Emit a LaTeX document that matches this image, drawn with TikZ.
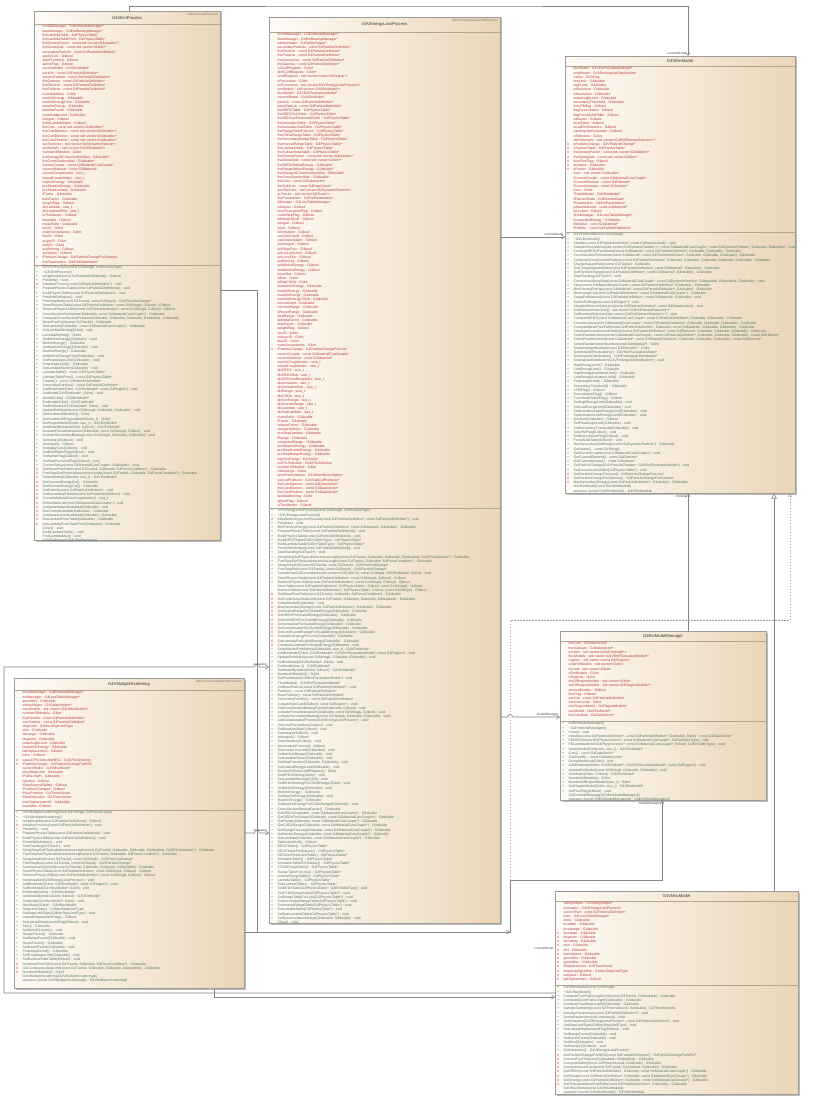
\documentclass[tikz,border=0pt]{standalone}
\usepackage{fontspec}
\usetikzlibrary{arrows.meta,calc}
\newfontfamily\umlfont{Liberation Sans}
\definecolor{boxleft}{HTML}{FFFBF6}
\definecolor{boxright}{HTML}{EAD6B8}
\definecolor{boxborder}{HTML}{9C9C9C}
\definecolor{sepcol}{HTML}{B3A690}
\definecolor{attrred}{HTML}{B43C3C}
\definecolor{opgreen}{HTML}{557563}
\definecolor{mkgray}{HTML}{A8A8A8}
\definecolor{mkred}{HTML}{C42A2A}
\definecolor{mkgreen}{HTML}{3A8C45}
\definecolor{linecol}{HTML}{858585}
\definecolor{shadowcol}{HTML}{BDBDBD}
\newcommand\ZA{\makebox[6.5pt][l]{\textcolor{mkgray}{-}}}
\newcommand\ZB{\makebox[6.5pt][l]{\textcolor{mkred}{\#}}}
\newcommand\ZC{\makebox[6.5pt][l]{\textcolor{mkgreen}{+}}}
\tikzset{
  classbox/.style={draw=boxborder, line width=0.5pt, left color=boxleft, right color=boxright, inner sep=0pt},
  shadowbox/.style={fill=shadowcol},
  sepline/.style={draw=sepcol, line width=0.45pt},
  titletext/.style={font=\umlfont\fontsize{4.2}{5}\selectfont, text=black!80, inner sep=0pt},
  stereo/.style={font=\umlfont\fontsize{3.2}{4}\selectfont, text=black!55, inner sep=0pt},
  attrtext/.style={font=\umlfont\fontsize{3.5}{4.2}\selectfont, text=attrred, inner sep=0pt},
  optext/.style={font=\umlfont\fontsize{3.5}{4.2}\selectfont, text=opgreen, inner sep=0pt},
  assoc/.style={draw=linecol, line width=0.6pt, -{Straight Barb[length=3pt,width=4pt]}},
  inherit/.style={draw=linecol, line width=0.6pt, -{Triangle[open,length=5pt,width=5.5pt,fill=white]}},
  depend/.style={draw=linecol!80, line width=0.6pt, dash pattern=on 1.5pt off 1.5pt, -{Straight Barb[length=3pt,width=4pt]}},
  rolelabel/.style={font=\umlfont\fontsize{3.2}{4}\selectfont, text=black!70, inner sep=0.5pt},
}
% #1 name, #2 x1, #3 y1, #4 x2, #5 y2, #6 header bottom, #7 separator, #8 title
\newcommand\umlclass[8]{%
  \fill[shadowbox] (#2+1.5,#3+1.5) rectangle (#4+1.5,#5+1.5);
  \node[classbox, anchor=north west, minimum width={(#4-#2)*1pt}, minimum height={(#5-#3)*1pt}] (#1) at (#2,#3) {};
  \draw[sepline] (#2,#6) -- (#4,#6);
  \draw[sepline] (#2,#7) -- (#4,#7);
  \node[titletext] (#1-title) at ({(#2+#4)/2},{(#3+#6)/2+0.3}) {#8};
}
% #1 name, #2 x1, #3 y1, #4 x2, #5 y2, #6 style, #7 content
\newcommand\umlsection[7]{%
  \begin{scope}
    \clip (#2,#3) rectangle (#4,#5);
    \node[#6, anchor=north west] (#1) at (#2+2,#3+0.8) {\begin{tabular}{@{}l@{}}#7\end{tabular}};
  \end{scope}
}
\begin{document}
\begin{tikzpicture}[x=1pt,y=-1pt]
\useasboundingbox (0,0) rectangle (817,1102);
\fill[white] (0,0) rectangle (817,1102);

% ---------------- helper coordinates ----------------
\coordinate (topy) at (400,6);
\coordinate (yB) at (0,237);
\coordinate (yG) at (0,717);
\coordinate (xD) at (774,0);
\coordinate (xC) at (688,0);
\coordinate (xM) at (257,0);
\coordinate (yM1) at (0,290);
\coordinate (yM2) at (0,932);
\coordinate (jM) at (510,932);
\coordinate (kM) at (510,880);
\coordinate (xK) at (662,0);
\coordinate (yI1) at (0,667);
\coordinate (yI2) at (0,833);
\coordinate (fL) at (4,993);
\coordinate (yS) at (0,997);
\coordinate (dT) at (510,620);
\coordinate (dR) at (790,620);

% ---------------- classes ----------------
\umlclass{c1}{34}{11}{220}{540}{24}{265}{G4VEmProcess}
\node[stereo, anchor=north east] (c1-st) at (218,12.5) {G4VDiscreteProcess};
\umlsection{c1-a}{34}{24}{220}{265}{attrtext}{%
\ZA modelManager : G4EmModelManager*\\
\ZA biasManager : G4EmBiasingManager*\\
\ZA theLambdaTable : G4PhysicsTable*\\
\ZA theLambdaTablePrim : G4PhysicsTable*\\
\ZA theDensityFactor : const std::vector<G4double>*\\
\ZA theDensityIdx : const std::vector<G4int>*\\
\ZA secondaryParticle : const G4ParticleDefinition*\\
\ZA applyCuts : G4bool\\
\ZA startFromNull : G4bool\\
\ZA splineFlag : G4bool\\
\ZA currentModel : G4VEmModel*\\
\ZA particle : const G4ParticleDefinition*\\
\ZA currentParticle : const G4ParticleDefinition*\\
\ZA theGamma : const G4ParticleDefinition*\\
\ZA theElectron : const G4ParticleDefinition*\\
\ZA thePositron : const G4ParticleDefinition*\\
\ZA nLambdaBins : G4int\\
\ZA minKinEnergy : G4double\\
\ZA minKinEnergyPrim : G4double\\
\ZA maxKinEnergy : G4double\\
\ZA lambdaFactor : G4double\\
\ZA polarAngleLimit : G4double\\
\ZA integral : G4bool\\
\ZA buildLambdaTable : G4bool\\
\ZA theCuts : const std::vector<G4double>*\\
\ZA theCutsGamma : const std::vector<G4double>*\\
\ZA theCutsElectron : const std::vector<G4double>*\\
\ZA theCutsPositron : const std::vector<G4double>*\\
\ZA secParticles : std::vector<G4DynamicParticle*>\\
\ZA emModels : std::vector<G4VEmModel*>\\
\ZA numberOfModels : G4int\\
\ZA theEnergyOfCrossSectionMax : G4double*\\
\ZA theCrossSectionMax : G4double*\\
\ZA currentCouple : const G4MaterialCutsCouple*\\
\ZA currentMaterial : const G4Material*\\
\ZA currentCoupleIndex : size\_t\\
\ZA basedCoupleIndex : size\_t\\
\ZA mfpKinEnergy : G4double\\
\ZA preStepKinEnergy : G4double\\
\ZA preStepLambda : G4double\\
\ZA fFactor : G4double\\
\ZA biasFactor : G4double\\
\ZA weightFlag : G4bool\\
\ZA idxLambda : size\_t\\
\ZA idxLambdaPrim : size\_t\\
\ZA isTheMaster : G4bool\\
\ZA baseMat : G4bool\\
\ZA massRatio : G4double\\
\ZA secID : G4int\\
\ZA mainSecondaries : G4int\\
\ZA fluoID : G4int\\
\ZA augerID : G4int\\
\ZA biasID : G4int\\
\ZA actBinning : G4bool\\
\ZA actSpline : G4bool\\
\ZB fParticleChange : G4ParticleChangeForGamma\\
\ZA theParameters : G4EmParameters*\\
\ZA lManager : G4LossTableManager*}
\umlsection{c1-o}{34}{265}{220}{540}{optext}{%
\ZC G4VEmProcess(const G4String\&, G4ProcessType)\\
\ZC \textasciitilde G4VEmProcess()\\
\ZC IsApplicable(const G4ParticleDefinition\&) : G4bool\\
\ZC PrintInfo() : void\\
\ZB InitialiseProcess(const G4ParticleDefinition*) : void\\
\ZC PreparePhysicsTable(const G4ParticleDefinition\&) : void\\
\ZC BuildPhysicsTable(const G4ParticleDefinition\&) : void\\
\ZC PrintInfoDefinition() : void\\
\ZC PostStepDoIt(const G4Track\&, const G4Step\&) : G4VParticleChange*\\
\ZC StorePhysicsTable(const G4ParticleDefinition*, const G4String\&, G4bool) : G4bool\\
\ZC RetrievePhysicsTable(const G4ParticleDefinition*, const G4String\&, G4bool) : G4bool\\
\ZC CrossSectionPerVolume(G4double, const G4MaterialCutsCouple*) : G4double\\
\ZC ComputeCrossSectionPerAtom(G4double, G4double, G4double, G4double) : G4double\\
\ZC MeanFreePath(const G4Track\&) : G4double\\
\ZC GetLambda(G4double, const G4MaterialCutsCouple*) : G4double\\
\ZC SetLambdaBinning(G4int) : void\\
\ZC LambdaBinning() : G4int\\
\ZC SetMinKinEnergy(G4double) : void\\
\ZC MinKinEnergy() : G4double\\
\ZC SetMaxKinEnergy(G4double) : void\\
\ZC MaxKinEnergy() : G4double\\
\ZC SetMinKinEnergyPrim(G4double) : void\\
\ZC SetPolarAngleLimit(G4double) : void\\
\ZC PolarAngleLimit() : G4double\\
\ZC SetLambdaFactor(G4double) : void\\
\ZC LambdaTable() : const G4PhysicsTable*\\
\ZC LambdaTablePrim() : const G4PhysicsTable*\\
\ZC Particle() : const G4ParticleDefinition*\\
\ZC SecondaryParticle() : const G4ParticleDefinition*\\
\ZC AddEmModel(G4int, G4VEmModel*, const G4Region*) : void\\
\ZC SetModel(G4VEmModel*, G4int) : void\\
\ZC Model(G4int) : G4VEmModel*\\
\ZC EmModel(G4int) : G4VEmModel*\\
\ZC SetEmModel(G4VEmModel*, G4int) : void\\
\ZC UpdateEmModel(const G4String\&, G4double, G4double) : void\\
\ZC GetNumberOfModels() : G4int\\
\ZC GetNumberOfRegionModels(size\_t) : G4int\\
\ZC GetRegionModel(G4int, size\_t) : G4VEmModel*\\
\ZC GetModelByIndex(G4int, G4bool) : G4VEmModel*\\
\ZC ActivateForcedInteraction(G4double, const G4String\&, G4bool) : void\\
\ZC ActivateSecondaryBiasing(const G4String\&, G4double, G4double) : void\\
\ZC SetIntegral(G4bool) : void\\
\ZC IsIntegral() : G4bool\\
\ZC SetApplyCuts(G4bool) : void\\
\ZC SetBuildTableFlag(G4bool) : void\\
\ZC SetSplineFlag(G4bool) : void\\
\ZC SetStartFromNullFlag(G4bool) : void\\
\ZC CurrentSetup(const G4MaterialCutsCouple*, G4double) : void\\
\ZB GetMeanFreePath(const G4Track\&, G4double, G4ForceCondition*) : G4double\\
\ZB PostStepGetPhysicalInteractionLength(const G4Track\&, G4double, G4ForceCondition*) : G4double\\
\ZB SelectModel(G4double, size\_t) : G4VEmModel*\\
\ZB GetGammaEnergyCut() : G4double\\
\ZB GetElectronEnergyCut() : G4double\\
\ZB SetParticle(const G4ParticleDefinition*) : void\\
\ZB SetSecondaryParticle(const G4ParticleDefinition*) : void\\
\ZB CurrentMaterialCutsCoupleIndex() : size\_t\\
\ZB DefineMaterial(const G4MaterialCutsCouple*) : void\\
\ZB ComputeIntegralLambda(G4double) : void\\
\ZB GetCurrentLambda(G4double) : G4double\\
\ZB ComputeCurrentLambda(G4double) : G4double\\
\ZB GetLambdaFromTable(G4double) : G4double\\
\ZB GetLambdaFromTablePrim(G4double) : G4double\\
\ZA Clear() : void\\
\ZA BuildLambdaTable() : void\\
\ZA FindLambdaMax() : void\\
\ZA G4VEmProcess(G4VEmProcess\&)\\
\ZA operator=(const G4VEmProcess\&) : G4VEmProcess\&}

% ---- G4VEnergyLossProcess
\umlclass{c2}{269}{17}{500}{923}{32}{508}{G4VEnergyLossProcess}
\node[stereo, anchor=north east] (c2-st) at (498,18.5) {G4VContinuousDiscreteProcess};
\umlsection{c2-a}{269}{32}{500}{508}{attrtext}{%
\ZA modelManager : G4EmModelManager*\\
\ZA biasManager : G4EmBiasingManager*\\
\ZA safetyHelper : G4SafetyHelper*\\
\ZA secondaryParticle : const G4ParticleDefinition*\\
\ZA theElectron : const G4ParticleDefinition*\\
\ZA thePositron : const G4ParticleDefinition*\\
\ZA theGenericIon : const G4ParticleDefinition*\\
\ZA theGamma : const G4ParticleDefinition*\\
\ZA nSCoffRegions : G4int\\
\ZA idxSCoffRegions : G4int*\\
\ZA scoffRegions : std::vector<const G4Region*>\\
\ZA nProcesses : G4int\\
\ZA scProcesses : std::vector<G4VEnergyLossProcess*>\\
\ZA emModels : std::vector<G4VEmModel*>\\
\ZA fluctModel : G4VEmFluctuationModel*\\
\ZA currentModel : G4VEmModel*\\
\ZA particle : const G4ParticleDefinition*\\
\ZA baseParticle : const G4ParticleDefinition*\\
\ZA theDEDXTable : G4PhysicsTable*\\
\ZA theDEDXSubTable : G4PhysicsTable*\\
\ZA theDEDXunRestrictedTable : G4PhysicsTable*\\
\ZA theIonisationTable : G4PhysicsTable*\\
\ZA theIonisationSubTable : G4PhysicsTable*\\
\ZA theRangeTableForLoss : G4PhysicsTable*\\
\ZA theCSDARangeTable : G4PhysicsTable*\\
\ZA theSecondaryRangeTable : G4PhysicsTable*\\
\ZA theInverseRangeTable : G4PhysicsTable*\\
\ZA theLambdaTable : G4PhysicsTable*\\
\ZA theSubLambdaTable : G4PhysicsTable*\\
\ZA theDensityFactor : const std::vector<G4double>*\\
\ZA theDensityIdx : const std::vector<G4int>*\\
\ZA theDEDXAtMaxEnergy : G4double*\\
\ZA theRangeAtMaxEnergy : G4double*\\
\ZA theEnergyOfCrossSectionMax : G4double*\\
\ZA theCrossSectionMax : G4double*\\
\ZA theCuts : const G4DataVector*\\
\ZA theSubCuts : const G4DataVector*\\
\ZA secParticles : std::vector<G4DynamicParticle*>\\
\ZA scTracks : std::vector<G4Track*>\\
\ZA theParameters : G4EmParameters*\\
\ZA lManager : G4LossTableManager*\\
\ZA isMaster : G4bool\\
\ZA lossFluctuationFlag : G4bool\\
\ZA rndmStepFlag : G4bool\\
\ZA tablesAreBuilt : G4bool\\
\ZA integral : G4bool\\
\ZA isIon : G4bool\\
\ZA isIonisation : G4bool\\
\ZA useSubCutoff : G4bool\\
\ZA useDeexcitation : G4bool\\
\ZA actIntegral : G4bool\\
\ZA actStepFunc : G4bool\\
\ZA actLinLossLimit : G4bool\\
\ZA actLossFluc : G4bool\\
\ZA actBinning : G4bool\\
\ZA actMinKinEnergy : G4bool\\
\ZA actMaxKinEnergy : G4bool\\
\ZA baseMat : G4bool\\
\ZA nBins : G4int\\
\ZA nBinsCSDA : G4int\\
\ZA lowestKinEnergy : G4double\\
\ZA minKinEnergy : G4double\\
\ZA maxKinEnergy : G4double\\
\ZA maxKinEnergyCSDA : G4double\\
\ZA linLossLimit : G4double\\
\ZA minSubRange : G4double\\
\ZA dRoverRange : G4double\\
\ZA finalRange : G4double\\
\ZA lambdaFactor : G4double\\
\ZA biasFactor : G4double\\
\ZA weightFlag : G4bool\\
\ZA secID : G4int\\
\ZA subsecID : G4int\\
\ZA biasID : G4int\\
\ZA mainSecondaries : G4int\\
\ZB fParticleChange : G4ParticleChangeForLoss\\
\ZA currentCouple : const G4MaterialCutsCouple*\\
\ZA currentMaterial : const G4Material*\\
\ZA currentCoupleIndex : size\_t\\
\ZA basedCoupleIndex : size\_t\\
\ZA idxDEDX : size\_t\\
\ZA idxDEDXSub : size\_t\\
\ZA idxDEDXunRestricted : size\_t\\
\ZA idxIonisation : size\_t\\
\ZA idxIonisationSub : size\_t\\
\ZA idxRange : size\_t\\
\ZA idxCSDA : size\_t\\
\ZA idxSecRange : size\_t\\
\ZA idxInverseRange : size\_t\\
\ZA idxLambda : size\_t\\
\ZA idxSubLambda : size\_t\\
\ZA massRatio : G4double\\
\ZA fFactor : G4double\\
\ZA reduceFactor : G4double\\
\ZA chargeSqRatio : G4double\\
\ZA preStepLambda : G4double\\
\ZA fRange : G4double\\
\ZA computedRange : G4double\\
\ZA preStepKinEnergy : G4double\\
\ZA preStepScaledEnergy : G4double\\
\ZA preStepRangeEnergy : G4double\\
\ZA mfpKinEnergy : G4double\\
\ZA aGPILSelection : G4GPILSelection\\
\ZA numberOfModels : G4int\\
\ZA nWarnings : G4int\\
\ZA atomDeexcitation : G4VAtomDeexcitation*\\
\ZA subcutProducer : G4VSubCutProducer*\\
\ZA theCutsGamma : const G4DataVector*\\
\ZA theCutsElectron : const G4DataVector*\\
\ZA theCutsPositron : const G4DataVector*\\
\ZA lambdaBinning : G4int\\
\ZA splineFlag : G4bool\\
\ZA isTheMaster : G4bool}
\umlsection{c2-o}{269}{508}{500}{923}{optext}{%
\ZC G4VEnergyLossProcess(const G4String\&, G4ProcessType)\\
\ZC \textasciitilde G4VEnergyLossProcess()\\
\ZB InitialiseEnergyLossProcess(const G4ParticleDefinition*, const G4ParticleDefinition*) : void\\
\ZC PrintInfo() : void\\
\ZC MinPrimaryEnergy(const G4ParticleDefinition*, const G4Material*, G4double) : G4double\\
\ZC PreparePhysicsTable(const G4ParticleDefinition\&) : void\\
\ZC BuildPhysicsTable(const G4ParticleDefinition\&) : void\\
\ZC BuildDEDXTable(G4EmTableType) : G4PhysicsTable*\\
\ZC BuildLambdaTable(G4EmTableType) : G4PhysicsTable*\\
\ZC PrintInfoDefinition(const G4ParticleDefinition\&) : void\\
\ZC StartTracking(G4Track*) : void\\
\ZC AlongStepGetPhysicalInteractionLength(const G4Track\&, G4double, G4double, G4double\&, G4GPILSelection*) : G4double\\
\ZC PostStepGetPhysicalInteractionLength(const G4Track\&, G4double, G4ForceCondition*) : G4double\\
\ZC AlongStepDoIt(const G4Track\&, const G4Step\&) : G4VParticleChange*\\
\ZC PostStepDoIt(const G4Track\&, const G4Step\&) : G4VParticleChange*\\
\ZC SampleSubCutSecondaries(std::vector<G4Track*>\&, const G4Step\&, G4VEmModel*, G4int) : void\\
\ZC StorePhysicsTable(const G4ParticleDefinition*, const G4String\&, G4bool) : G4bool\\
\ZC RetrievePhysicsTable(const G4ParticleDefinition*, const G4String\&, G4bool) : G4bool\\
\ZA StoreTable(const G4ParticleDefinition*, G4PhysicsTable*, G4bool, const G4String\&) : G4bool\\
\ZA RetrieveTable(const G4ParticleDefinition*, G4PhysicsTable*, G4bool, const G4String\&) : G4bool\\
\ZB GetMeanFreePath(const G4Track\&, G4double, G4ForceCondition*) : G4double\\
\ZB GetContinuousStepLimit(const G4Track\&, G4double, G4double, G4double\&) : G4double\\
\ZB SelectModel(G4double) : void\\
\ZB MaxSecondaryEnergy(const G4ParticleDefinition*, G4double) : G4double\\
\ZB GetScaledRangeForScaledEnergy(G4double) : G4double\\
\ZB GetDEDXForScaledEnergy(G4double) : G4double\\
\ZB GetSubDEDXForScaledEnergy(G4double) : G4double\\
\ZB GetIonisationForScaledEnergy(G4double) : G4double\\
\ZB GetSubIonisationForScaledEnergy(G4double) : G4double\\
\ZB GetLimitScaledRangeForScaledEnergy(G4double) : G4double\\
\ZB ScaledKinEnergyForLoss(G4double) : G4double\\
\ZB GetLambdaForScaledEnergy(G4double) : G4double\\
\ZB ComputeLambdaForScaledEnergy(G4double) : void\\
\ZC SelectModelForMaterial(G4double, size\_t) : G4VEmModel*\\
\ZC AddEmModel(G4int, G4VEmModel*, G4VEmFluctuationModel*, const G4Region*) : void\\
\ZC UpdateEmModel(const G4String\&, G4double, G4double) : void\\
\ZC SetEmModel(G4VEmModel*, G4int) : void\\
\ZC EmModel(size\_t) : G4VEmModel*\\
\ZC GetModelByIndex(G4int, G4bool) : G4VEmModel*\\
\ZC NumberOfModels() : G4int\\
\ZC SetFluctModel(G4VEmFluctuationModel*) : void\\
\ZC FluctModel() : G4VEmFluctuationModel*\\
\ZC SetBaseParticle(const G4ParticleDefinition*) : void\\
\ZC Particle() : const G4ParticleDefinition*\\
\ZC BaseParticle() : const G4ParticleDefinition*\\
\ZC SecondaryParticle() : const G4ParticleDefinition*\\
\ZC ActivateSubCutoff(G4bool, const G4Region*) : void\\
\ZC SetCrossSectionBiasingFactor(G4double, G4bool) : void\\
\ZC ActivateForcedInteraction(G4double, const G4String\&, G4bool) : void\\
\ZC ActivateSecondaryBiasing(const G4String\&, G4double, G4double) : void\\
\ZC AddCollaborativeProcess(G4VEnergyLossProcess*) : void\\
\ZC SetLossFluctuations(G4bool) : void\\
\ZC SetRandomStep(G4bool) : void\\
\ZC SetIntegral(G4bool) : void\\
\ZC IsIntegral() : G4bool\\
\ZC SetIonisation(G4bool) : void\\
\ZC IsIonisationProcess() : G4bool\\
\ZC SetLinearLossLimit(G4double) : void\\
\ZC SetMinSubRange(G4double) : void\\
\ZC SetLambdaFactor(G4double) : void\\
\ZC SetStepFunction(G4double, G4double) : void\\
\ZC SetLowestEnergyLimit(G4double) : void\\
\ZC NumberOfSubCutoffRegions() : G4int\\
\ZC SetDEDXBinning(G4int) : void\\
\ZC SetLambdaBinning(G4int) : void\\
\ZC SetDEDXBinningForCSDARange(G4int) : void\\
\ZC SetMinKinEnergy(G4double) : void\\
\ZC MinKinEnergy() : G4double\\
\ZC SetMaxKinEnergy(G4double) : void\\
\ZC MaxKinEnergy() : G4double\\
\ZC SetMaxKinEnergyForCSDARange(G4double) : void\\
\ZC CrossSectionBiasingFactor() : G4double\\
\ZC GetDEDX(G4double, const G4MaterialCutsCouple*) : G4double\\
\ZC GetDEDXForSubsec(G4double, const G4MaterialCutsCouple*) : G4double\\
\ZC GetRange(G4double, const G4MaterialCutsCouple*) : G4double\\
\ZC GetCSDARange(G4double, const G4MaterialCutsCouple*) : G4double\\
\ZC GetRangeForLoss(G4double, const G4MaterialCutsCouple*) : G4double\\
\ZC GetKineticEnergy(G4double, const G4MaterialCutsCouple*) : G4double\\
\ZC GetLambda(G4double, const G4MaterialCutsCouple*) : G4double\\
\ZC TablesAreBuilt() : G4bool\\
\ZC DEDXTable() : G4PhysicsTable*\\
\ZC DEDXTableForSubsec() : G4PhysicsTable*\\
\ZC DEDXunRestrictedTable() : G4PhysicsTable*\\
\ZC IonisationTable() : G4PhysicsTable*\\
\ZC IonisationTableForSubsec() : G4PhysicsTable*\\
\ZC CSDARangeTable() : G4PhysicsTable*\\
\ZC RangeTableForLoss() : G4PhysicsTable*\\
\ZC InverseRangeTable() : G4PhysicsTable*\\
\ZC LambdaTable() : G4PhysicsTable*\\
\ZC SubLambdaTable() : G4PhysicsTable*\\
\ZC SetDEDXTable(G4PhysicsTable*, G4EmTableType) : void\\
\ZC SetCSDARangeTable(G4PhysicsTable*) : void\\
\ZC SetRangeTableForLoss(G4PhysicsTable*) : void\\
\ZC SetSecondaryRangeTable(G4PhysicsTable*) : void\\
\ZC SetInverseRangeTable(G4PhysicsTable*) : void\\
\ZC SetLambdaTable(G4PhysicsTable*) : void\\
\ZC SetSubLambdaTable(G4PhysicsTable*) : void\\
\ZC SetDynamicMassCharge(G4double, G4double) : void\\
\ZA Clear() : void\\
\ZA G4VEnergyLossProcess(G4VEnergyLossProcess\&)\\
\ZA operator=(const G4VEnergyLossProcess\&) : G4VEnergyLossProcess\&}

% ---- G4VEmModel
\umlclass{c3}{565}{56}{795}{493}{66}{232}{G4VEmModel}
\umlsection{c3-a}{565}{66}{795}{232}{attrtext}{%
\ZA flucModel : G4VEmFluctuationModel*\\
\ZA anglModel : G4VEmAngularDistribution*\\
\ZA name : G4String\\
\ZA lowLimit : G4double\\
\ZA highLimit : G4double\\
\ZA eMinActive : G4double\\
\ZA eMaxActive : G4double\\
\ZA polarAngleLimit : G4double\\
\ZA secondaryThreshold : G4double\\
\ZA theLPMflag : G4bool\\
\ZA flagDeexcitation : G4bool\\
\ZA flagForceBuildTable : G4bool\\
\ZA isMaster : G4bool\\
\ZA localTable : G4bool\\
\ZA localElmSelectors : G4bool\\
\ZA useAngularGenerator : G4bool\\
\ZA nSelectors : G4int\\
\ZA elmSelectors : std::vector<G4EmElementSelector*>*\\
\ZB pParticleChange : G4VParticleChange*\\
\ZB xSectionTable : G4PhysicsTable*\\
\ZB theDensityFactor : const std::vector<G4double>*\\
\ZB theDensityIdx : const std::vector<G4int>*\\
\ZB lossFlucFlag : G4bool\\
\ZB inveplus : G4double\\
\ZB pFactor : G4double\\
\ZA xsec : std::vector<G4double>\\
\ZA fCurrentCouple : const G4MaterialCutsCouple*\\
\ZA fCurrentElement : const G4Element*\\
\ZA fCurrentIsotope : const G4Isotope*\\
\ZA nsec : G4int\\
\ZA fTripletModel : G4VEmModel*\\
\ZA fElementData : G4ElementData*\\
\ZA fParameters : G4EmParameters*\\
\ZA pBaseMaterial : const G4Material*\\
\ZA isLocked : G4bool\\
\ZA fEmManager : G4LossTableManager*\\
\ZA fLowestKinEnergy : G4double\\
\ZA fMaterial : const G4Material*\\
\ZA fParticle : const G4ParticleDefinition*}
\umlsection{c3-o}{565}{232}{795}{493}{optext}{%
\ZC G4VEmModel(const G4String\&)\\
\ZC \textasciitilde G4VEmModel()\\
\ZC Initialise(const G4ParticleDefinition*, const G4DataVector\&) : void\\
\ZC SampleSecondaries(std::vector<G4DynamicParticle*>*, const G4MaterialCutsCouple*, const G4DynamicParticle*, G4double, G4double) : void\\
\ZC ComputeDEDXPerVolume(const G4Material*, const G4ParticleDefinition*, G4double, G4double) : G4double\\
\ZC CrossSectionPerVolume(const G4Material*, const G4ParticleDefinition*, G4double, G4double, G4double) : G4double\\
\ZC ComputeCrossSectionPerAtom(const G4ParticleDefinition*, G4double, G4double, G4double, G4double, G4double) : G4double\\
\ZC ChargeSquareRatio(const G4Track\&) : G4double\\
\ZC GetChargeSquareRatio(const G4ParticleDefinition*, const G4Material*, G4double) : G4double\\
\ZC GetParticleCharge(const G4ParticleDefinition*, const G4Material*, G4double) : G4double\\
\ZC StartTracking(G4Track*) : void\\
\ZC CorrectionsAlongStep(const G4MaterialCutsCouple*, const G4DynamicParticle*, G4double\&, G4double\&, G4double) : void\\
\ZC Value(const G4MaterialCutsCouple*, const G4ParticleDefinition*, G4double) : G4double\\
\ZC MinPrimaryEnergy(const G4Material*, const G4ParticleDefinition*, G4double) : G4double\\
\ZC MinEnergyCut(const G4ParticleDefinition*, const G4MaterialCutsCouple*) : G4double\\
\ZC SetupForMaterial(const G4ParticleDefinition*, const G4Material*, G4double) : void\\
\ZC DefineForRegion(const G4Region*) : void\\
\ZC InitialiseElementSelectors(const G4ParticleDefinition*, const G4DataVector\&) : void\\
\ZC GetElementSelectors() : std::vector<G4EmElementSelector*>*\\
\ZC SetElementSelectors(std::vector<G4EmElementSelector*>*) : void\\
\ZC ComputeDEDX(const G4MaterialCutsCouple*, const G4ParticleDefinition*, G4double, G4double) : G4double\\
\ZC CrossSection(const G4MaterialCutsCouple*, const G4ParticleDefinition*, G4double, G4double, G4double) : G4double\\
\ZC ComputeMeanFreePath(const G4ParticleDefinition*, G4double, const G4Material*, G4double, G4double) : G4double\\
\ZC ComputeCrossSectionPerAtom(const G4ParticleDefinition*, const G4Element*, G4double, G4double, G4double) : G4double\\
\ZC SelectRandomAtom(const G4MaterialCutsCouple*, const G4ParticleDefinition*, G4double, G4double, G4double) : const G4Element*\\
\ZC SelectRandomAtom(const G4Material*, const G4ParticleDefinition*, G4double, G4double, G4double) : const G4Element*\\
\ZC SelectRandomAtomNumber(const G4Material*) : G4int\\
\ZC SelectIsotopeNumber(const G4Element*) : G4int\\
\ZC GetModelOfFluctuations() : G4VEmFluctuationModel*\\
\ZC GetAngularDistribution() : G4VEmAngularDistribution*\\
\ZC SetAngularDistribution(G4VEmAngularDistribution*) : void\\
\ZC HighEnergyLimit() : G4double\\
\ZC LowEnergyLimit() : G4double\\
\ZC HighEnergyActivationLimit() : G4double\\
\ZC LowEnergyActivationLimit() : G4double\\
\ZC PolarAngleLimit() : G4double\\
\ZC SecondaryThreshold() : G4double\\
\ZC LPMFlag() : G4bool\\
\ZC DeexcitationFlag() : G4bool\\
\ZC ForceBuildTableFlag() : G4bool\\
\ZC SetHighEnergyLimit(G4double) : void\\
\ZC SetLowEnergyLimit(G4double) : void\\
\ZC SetActivationHighEnergyLimit(G4double) : void\\
\ZC SetActivationLowEnergyLimit(G4double) : void\\
\ZC IsActive(G4double) : G4bool\\
\ZC SetPolarAngleLimit(G4double) : void\\
\ZC SetSecondaryThreshold(G4double) : void\\
\ZC SetLPMFlag(G4bool) : void\\
\ZC SetDeexcitationFlag(G4bool) : void\\
\ZC ForceBuildTable(G4bool) : void\\
\ZC MaxSecondaryKinEnergy(const G4DynamicParticle*) : G4double\\
\ZC GetName() : const G4String\&\\
\ZC SetCurrentCouple(const G4MaterialCutsCouple*) : void\\
\ZC GetCurrentElement() : const G4Element*\\
\ZC GetCurrentIsotope() : const G4Isotope*\\
\ZC SetParticleChange(G4VParticleChange*, G4VEmFluctuationModel*) : void\\
\ZC SetCrossSectionTable(G4PhysicsTable*) : void\\
\ZB GetParticleChangeForLoss() : G4ParticleChangeForLoss*\\
\ZB GetParticleChangeForGamma() : G4ParticleChangeForGamma*\\
\ZB MaxSecondaryEnergy(const G4ParticleDefinition*, G4double) : G4double\\
\ZA G4VEmModel(const G4VEmModel\&)\\
\ZA operator=(const G4VEmModel\&) : G4VEmModel\&}

% ---- G4EmModelManager
\umlclass{c4}{560}{631}{766}{800}{641}{721}{G4EmModelManager}
\umlsection{c4-a}{560}{641}{766}{721}{attrtext}{%
\ZA theCuts : G4DataVector*\\
\ZA theSubCuts : G4DataVector*\\
\ZA models : std::vector<G4VEmModel*>\\
\ZA flucModels : std::vector<G4VEmFluctuationModel*>\\
\ZA regions : std::vector<const G4Region*>\\
\ZA orderOfModels : std::vector<G4int>\\
\ZA isUsed : std::vector<G4int>\\
\ZA nEmModels : G4int\\
\ZA nRegions : G4int\\
\ZA idxOfRegionModels : std::vector<G4int>\\
\ZA setOfRegionModels : std::vector<G4RegionModels*>\\
\ZA severalModels : G4bool\\
\ZA fluoFlag : G4bool\\
\ZA particle : const G4ParticleDefinition*\\
\ZA verboseLevel : G4int\\
\ZA currRegionModel : G4RegionModels*\\
\ZA currModel : G4VEmModel*\\
\ZA theCutsNew : G4DataVector*}
\umlsection{c4-o}{560}{721}{766}{800}{optext}{%
\ZC G4EmModelManager()\\
\ZC \textasciitilde G4EmModelManager()\\
\ZC Clear() : void\\
\ZC Initialise(const G4ParticleDefinition*, const G4ParticleDefinition*, G4double, G4int) : const G4DataVector*\\
\ZC FillDEDXVector(G4PhysicsVector*, const G4MaterialCutsCouple*, G4EmTableType) : void\\
\ZC FillLambdaVector(G4PhysicsVector*, const G4MaterialCutsCouple*, G4bool, G4EmTableType) : void\\
\ZC SelectModel(G4double, size\_t) : G4VEmModel*\\
\ZC Cuts() : const G4DataVector*\\
\ZC SubCutoff() : const G4DataVector*\\
\ZC DumpModelList(G4int) : void\\
\ZC AddEmModel(G4int, G4VEmModel*, G4VEmFluctuationModel*, const G4Region*) : void\\
\ZC UpdateEmModel(const G4String\&, G4double, G4double) : void\\
\ZC GetModel(G4int, G4bool) : G4VEmModel*\\
\ZC NumberOfModels() : G4int\\
\ZC NumberOfRegionModels(size\_t) : G4int\\
\ZC GetRegionModel(G4int, size\_t) : G4VEmModel*\\
\ZC SetFluoFlag(G4bool) : void\\
\ZA G4EmModelManager(G4EmModelManager\&)\\
\ZA operator=(const G4EmModelManager\&) : G4EmModelManager\&}

% ---- G4VMultipleScattering
\umlclass{c5}{14}{678}{244}{988}{690}{810}{G4VMultipleScattering}
\node[stereo, anchor=north east] (c5-st) at (242,679.5) {G4VContinuousDiscreteProcess};
\umlsection{c5-a}{14}{690}{244}{810}{attrtext}{%
\ZA modelManager : G4EmModelManager*\\
\ZA emManager : G4LossTableManager*\\
\ZA geomMin : G4double\\
\ZA safetyHelper : G4SafetyHelper*\\
\ZA mscModels : std::vector<G4VMscModel*>\\
\ZA numberOfModels : G4int\\
\ZA firstParticle : const G4ParticleDefinition*\\
\ZA currParticle : const G4ParticleDefinition*\\
\ZA stepLimit : G4MscStepLimitType\\
\ZA skin : G4double\\
\ZA facrange : G4double\\
\ZA facgeom : G4double\\
\ZA polarAngleLimit : G4double\\
\ZA lowestKinEnergy : G4double\\
\ZA latDisplacement : G4bool\\
\ZA isIon : G4bool\\
\ZB valueGPILSelectionMSC : G4GPILSelection\\
\ZB fParticleChange : G4ParticleChangeForMSC\\
\ZA currentModel : G4VMscModel*\\
\ZA physStepLimit : G4double\\
\ZA tPathLength : G4double\\
\ZA isActive : G4bool\\
\ZA fDispBeyondSafety : G4bool\\
\ZA fPositionChanged : G4bool\\
\ZA fNewPosition : G4ThreeVector\\
\ZA fNewDirection : G4ThreeVector\\
\ZA minDisplacement2 : G4double\\
\ZA baseMat : G4bool}
\umlsection{c5-o}{14}{810}{244}{988}{optext}{%
\ZC G4VMultipleScattering(const G4String\&, G4ProcessType)\\
\ZC \textasciitilde G4VMultipleScattering()\\
\ZC IsApplicable(const G4ParticleDefinition\&) : G4bool\\
\ZB InitialiseProcess(const G4ParticleDefinition*) : void\\
\ZC PrintInfo() : void\\
\ZC PreparePhysicsTable(const G4ParticleDefinition\&) : void\\
\ZC BuildPhysicsTable(const G4ParticleDefinition\&) : void\\
\ZC PrintInfoDefinition() : void\\
\ZC StartTracking(G4Track*) : void\\
\ZC AlongStepGetPhysicalInteractionLength(const G4Track\&, G4double, G4double, G4double\&, G4GPILSelection*) : G4double\\
\ZC PostStepGetPhysicalInteractionLength(const G4Track\&, G4double, G4ForceCondition*) : G4double\\
\ZC AlongStepDoIt(const G4Track\&, const G4Step\&) : G4VParticleChange*\\
\ZC PostStepDoIt(const G4Track\&, const G4Step\&) : G4VParticleChange*\\
\ZC ContinuousStepLimit(const G4Track\&, G4double, G4double, G4double\&) : G4double\\
\ZC StorePhysicsTable(const G4ParticleDefinition*, const G4String\&, G4bool) : G4bool\\
\ZC RetrievePhysicsTable(const G4ParticleDefinition*, const G4String\&, G4bool) : G4bool\\
\ZC SetIonisation(G4VEnergyLossProcess*) : void\\
\ZC AddEmModel(G4int, G4VEmModel*, const G4Region*) : void\\
\ZC SetEmModel(G4VMscModel*, G4int) : void\\
\ZC EmModel(G4int) : G4VMscModel*\\
\ZC GetModelByIndex(G4int, G4bool) : G4VEmModel*\\
\ZC SetModel(G4VMscModel*, G4int) : void\\
\ZC MscModel(G4int) : G4VMscModel*\\
\ZC StepLimitType() : G4MscStepLimitType\\
\ZC SetStepLimitType(G4MscStepLimitType) : void\\
\ZC LateralDisplasmentFlag() : G4bool\\
\ZC SetLateralDisplasmentFlag(G4bool) : void\\
\ZC Skin() : G4double\\
\ZC SetSkin(G4double) : void\\
\ZC RangeFactor() : G4double\\
\ZC SetRangeFactor(G4double) : void\\
\ZC GeomFactor() : G4double\\
\ZC SetGeomFactor(G4double) : void\\
\ZC PolarAngleLimit() : G4double\\
\ZC SetPolarAngleLimit(G4double) : void\\
\ZC SetBuildLambdaTable(G4bool) : void\\
\ZB GetMeanFreePath(const G4Track\&, G4double, G4ForceCondition*) : G4double\\
\ZB GetContinuousStepLimit(const G4Track\&, G4double, G4double, G4double\&) : G4double\\
\ZB NumberOfModels() : G4int\\
\ZA G4VMultipleScattering(G4VMultipleScattering\&)\\
\ZA operator=(const G4VMultipleScattering\&) : G4VMultipleScattering\&}

% ---- G4VMscModel
\umlclass{c6}{555}{891}{798}{1094}{901}{985}{G4VMscModel}
\umlsection{c6-a}{555}{901}{798}{985}{attrtext}{%
\ZA safetyHelper : G4SafetyHelper*\\
\ZA ionisation : G4VEnergyLossProcess*\\
\ZA currentPart : const G4ParticleDefinition*\\
\ZA man : G4LossTableManager*\\
\ZA dedx : G4double\\
\ZA localtkin : G4double\\
\ZA localrange : G4double\\
\ZB facrange : G4double\\
\ZB facgeom : G4double\\
\ZB facsafety : G4double\\
\ZB skin : G4double\\
\ZB dtrl : G4double\\
\ZB lambdalimit : G4double\\
\ZB geomMin : G4double\\
\ZB geomMax : G4double\\
\ZB fDisplacement : G4ThreeVector\\
\ZB steppingAlgorithm : G4MscStepLimitType\\
\ZB samplez : G4bool\\
\ZB latDisplasment : G4bool}
\umlsection{c6-o}{555}{985}{798}{1094}{optext}{%
\ZC G4VMscModel(const G4String\&)\\
\ZC \textasciitilde G4VMscModel()\\
\ZC ComputeTruePathLengthLimit(const G4Track\&, G4double\&) : G4double\\
\ZC ComputeGeomPathLength(G4double) : G4double\\
\ZC ComputeTrueStepLength(G4double) : G4double\\
\ZC SampleScattering(const G4ThreeVector\&, G4double) : G4ThreeVector\&\\
\ZC InitialiseParameters(const G4ParticleDefinition*) : void\\
\ZC DumpParameters(std::ostream\&) : void\\
\ZC SetIonisation(G4VEnergyLossProcess*, const G4ParticleDefinition*) : void\\
\ZC SetStepLimitType(G4MscStepLimitType) : void\\
\ZC SetLateralDisplasmentFlag(G4bool) : void\\
\ZC SetRangeFactor(G4double) : void\\
\ZC SetGeomFactor(G4double) : void\\
\ZC SetSkin(G4double) : void\\
\ZC SetSampleZ(G4bool) : void\\
\ZC GetIonisation() : G4VEnergyLossProcess*\\
\ZB GetParticleChangeForMSC(const G4ParticleDefinition*) : G4ParticleChangeForMSC*\\
\ZB ConvertTrueToGeom(G4double\&, G4double\&) : G4double\\
\ZB ComputeSafety(const G4ThreeVector\&, G4double) : G4double\\
\ZB ComputeGeomLimit(const G4Track\&, G4double\&, G4double) : G4double\\
\ZB GetDEDX(const G4ParticleDefinition*, G4double, const G4MaterialCutsCouple*) : G4double\\
\ZB GetRange(const G4ParticleDefinition*, G4double, const G4MaterialCutsCouple*) : G4double\\
\ZB GetEnergy(const G4ParticleDefinition*, G4double, const G4MaterialCutsCouple*) : G4double\\
\ZB GetTransportMeanFreePath(const G4ParticleDefinition*, G4double) : G4double\\
\ZA G4VMscModel(const G4VMscModel\&)\\
\ZA operator=(const G4VMscModel\&) : G4VMscModel\&}

% ---------------- connectors ----------------
% G4VEmProcess -> G4VEmModel (top route)
\draw[assoc] ([xshift=95pt]c1.north west) |- (topy) -| (xC |- c3.north);
\node[rolelabel, anchor=south east] (lA) at ([xshift=-1pt,yshift=1pt]xC |- c3.north) {-currentModel};
% G4VEnergyLossProcess -> G4VEmModel
\draw[assoc] (c2.east |- yB) -- (c3.west |- yB);
\node[rolelabel, anchor=south east] (lB) at ([xshift=-1pt,yshift=0.5pt]c3.west |- yB) {-currentModel};
% G4VEnergyLossProcess -> G4EmModelManager (hops over the dashed line)
\draw[assoc] (c2.east |- yG) -- ([xshift=-2.5pt]dT |- yG) arc[start angle=180, end angle=0, radius=2.5pt] -- (c4.west |- yG);
\node[rolelabel, anchor=south east] (lG) at ([xshift=-1pt,yshift=0.5pt]c4.west |- yG) {-modelManager};
% G4VMscModel -|> G4VEmModel
\draw[inherit] (xD |- c6.north) -- (xD |- c3.south);
% G4EmModelManager -> G4VEmModel
\draw[assoc] (xC |- c4.north) -- (xC |- c3.south);
\node[rolelabel, anchor=north east] (lC) at ([xshift=-1pt,yshift=-1pt]xC |- c3.south) {-models};
% G4VEmProcess / G4VMultipleScattering -> G4EmModelManager
\draw[assoc] (c1.east |- yM1) -| (xM |- yM2) -- (jM) -- (kM) -| (xK |- c4.south);
\draw[assoc] (c5.east |- yM2) -- (jM);
\node[rolelabel, anchor=north east] (lK) at ([xshift=-1pt,yshift=-1pt]xK |- c4.south) {-modelManager};
% dashed dependency
\draw[depend] (kM) -- (dT) -- (dR) -- (dR |- c3.south);
% G4VMscModel -> G4VEnergyLossProcess (around), hop over the vertical route
\draw[assoc] (c6.west |- fL) -- (fL) |- ([xshift=-2.5pt]xM |- yI1) arc[start angle=180, end angle=0, radius=2.5pt] -- (c2.west |- yI1);
\node[rolelabel, anchor=south east] (lI1) at ([xshift=-1pt,yshift=0.5pt]c2.west |- yI1) {-ionisation};
% G4VMultipleScattering -> G4VEnergyLossProcess
\draw[assoc] (c5.east |- yI2) -- ([xshift=-2.5pt]xM |- yI2) arc[start angle=180, end angle=0, radius=2.5pt] -- (c2.west |- yI2);
\node[rolelabel, anchor=south east] (lI2) at ([xshift=-1pt,yshift=0.5pt]c2.west |- yI2) {-ionisation};
% G4VMultipleScattering -> G4VMscModel
\draw[assoc] ([xshift=-30pt]c5.south east) |- (c6.west |- yS);
\node[rolelabel, anchor=south east] (lS) at ([xshift=-1pt]c6.west |- 0,950) {-currentModel};
\end{tikzpicture}
\end{document}
